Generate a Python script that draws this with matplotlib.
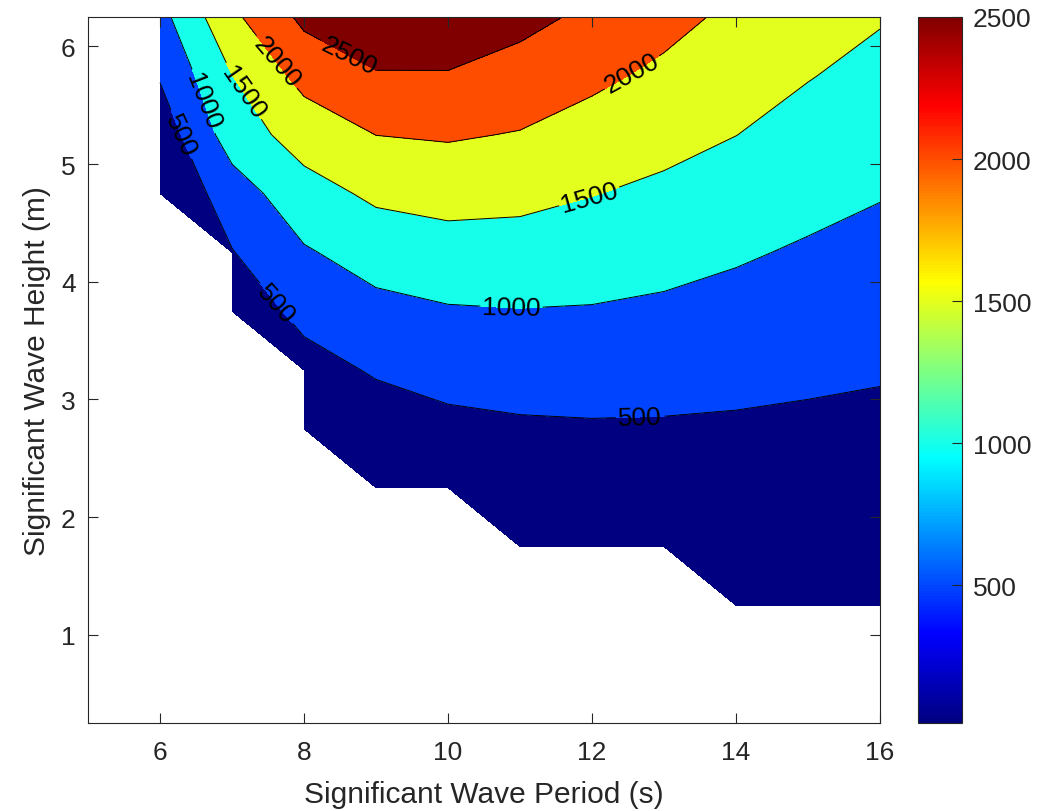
import numpy as np
import matplotlib
matplotlib.use("Agg")
import matplotlib.pyplot as plt
from matplotlib import colors

plt.rcParams['font.family'] = ['Liberation Sans', 'DejaVu Sans']

nan = np.nan
periods = [6, 7, 8, 9, 10, 11, 12, 13, 14, 15, 16]
heights = [0.25, 0.75, 1.25, 1.75, 2.25, 2.75, 3.25, 3.75, 4.25, 4.75, 5.25, 5.75, 6.25]

# power matrix, one row per wave height
power = [
    [nan, nan, nan, nan, nan, nan, nan, nan, nan, nan, nan],
    [nan, nan, nan, nan, nan, nan, nan, nan, nan, nan, nan],
    [nan, nan, nan, nan, nan, nan, nan, nan, 30, 30, 20],
    [nan, nan, nan, nan, nan, 30, 60, 60, 140, 110, 90],
    [nan, nan, nan, 60, 170, 215, 245, 245, 280, 240, 210],
    [nan, nan, 100, 265, 385, 435, 455, 450, 435, 410, 385],
    [nan, nan, 330, 545, 660, 705, 710, 685, 640, 590, 545],
    [nan, 200, 630, 860, 960, 985, 970, 920, 845, 770, 705],
    [nan, 480, 950, 1210, 1305, 1300, 1240, 1160, 1055, 945, 860],
    [15, 760, 1310, 1590, 1670, 1630, 1515, 1405, 1280, 1145, 1025],
    [200, 1240, 1715, 2005, 2050, 1975, 1810, 1650, 1505, 1335, 1195],
    [540, 1495, 2155, 2455, 2460, 2305, 2100, 1900, 1700, 1520, 1365],
    [840, 1900, 2610, 2930, 2905, 2645, 2400, 2155, 1895, 1710, 1535],
]

levels = [0, 500, 1000, 1500, 2000, 2500, 3200]
line_levels = [500, 1000, 1500, 2000, 2500]
label_pos = [(6.25, 5.24), (6.62, 5.54), (7.12, 5.60), (7.57, 5.84), (8.65, 5.96),
             (12.57, 5.76), (11.97, 4.70), (10.88, 3.76), (12.67, 2.83), (7.59, 3.80)]

# MATLAB style jet (differs a bit from matplotlib's)
mjet = colors.LinearSegmentedColormap('mjet', {
    'red':   [(0, 0, 0), (0.375, 0, 0), (0.625, 1, 1), (0.875, 1, 1), (1, 0.5, 0.5)],
    'green': [(0, 0, 0), (0.125, 0, 0), (0.375, 1, 1), (0.625, 1, 1), (0.875, 0, 0), (1, 0, 0)],
    'blue':  [(0, 0.5, 0.5), (0.125, 1, 1), (0.375, 1, 1), (0.625, 0, 0), (1, 0, 0)],
}, N=256)

Z = np.ma.masked_invalid(np.array(power))
norm = colors.Normalize(vmin=15, vmax=2500)
fill_cols = [mjet(norm(max(l, 15))) for l in levels[:-1]]

fig = plt.figure(figsize=(10.42, 8.12), dpi=100)
ax = fig.add_axes([0.0845, 0.1084, 0.76, 0.8695])
cax = fig.add_axes([0.881, 0.1084, 0.0422, 0.8695])

ax.contourf(periods, heights, Z, levels=levels, colors=fill_cols)
cl = ax.contour(periods, heights, Z, levels=line_levels, colors='k', linewidths=0.7)
ax.clabel(cl, manual=label_pos, inline=True, fmt='%d', fontsize=19, colors='k')

ax.set_xlim(5, 16)
ax.set_ylim(0.25, 6.25)
ax.set_xticks([6, 8, 10, 12, 14, 16])
ax.set_yticks([1, 2, 3, 4, 5, 6])
gray = '#262626'
ax.tick_params(direction='in', top=True, right=True, length=7, width=0.8,
               colors=gray, labelsize=19)
ax.tick_params(axis='x', pad=12)
ax.tick_params(axis='y', pad=9)
for s in ax.spines.values():
    s.set_color(gray)
    s.set_linewidth(0.8)
ax.set_xlabel('Significant Wave Period (s)', fontsize=21.5, color=gray, labelpad=12)
ax.set_ylabel('Significant Wave Height (m)', fontsize=21.5, color=gray, labelpad=7)

sm = plt.cm.ScalarMappable(norm=norm, cmap=mjet)
cb = fig.colorbar(sm, cax=cax, ticks=[500, 1000, 1500, 2000, 2500])
cax.tick_params(direction='in', length=7, width=0.8, colors=gray, labelsize=19, pad=8)
cb.outline.set_edgecolor(gray)
cb.outline.set_linewidth(0.8)

fig.savefig('out.png', dpi=100)
